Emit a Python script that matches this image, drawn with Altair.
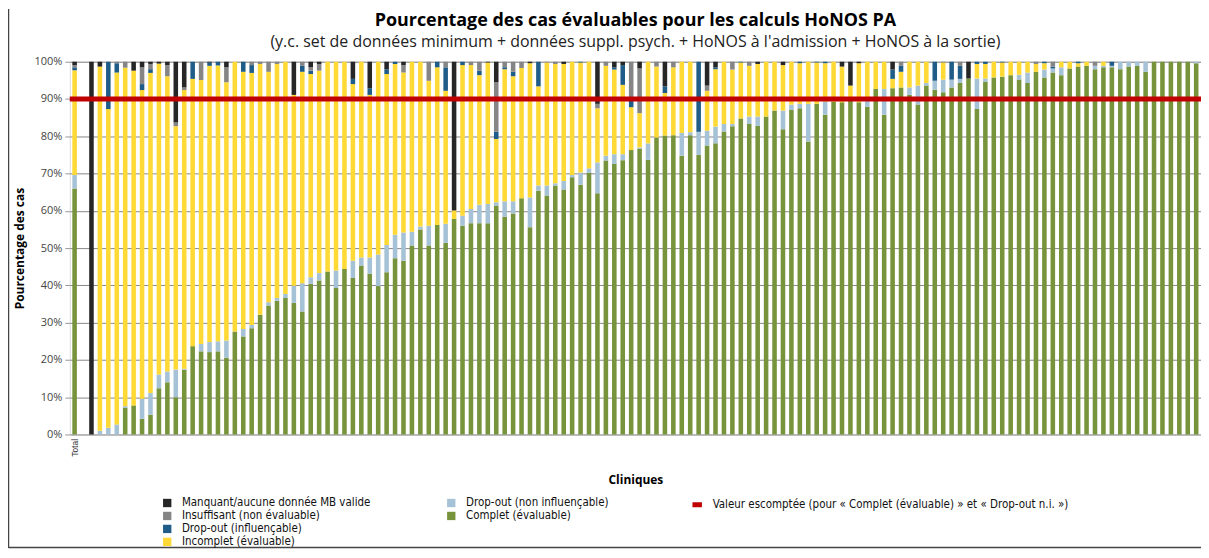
import altair as alt
import pandas as pd

# ---------------- data ----------------
CLINICS = ["Total"] + [f"Clinique {i}" for i in range(1, 133)]
GAP = " "
X_DOMAIN = ["Total", GAP] + CLINICS[1:]

complet = [66.0,
    0, 0, 0, 0, 7.1, 7.8, 4.2, 5.3, 12.4, 14.0,
    10.0, 17.4, 23.7, 22.3, 22.1, 22.3, 20.6, 27.6, 26.3, 28.5,
    32.1, 34.6, 35.9, 36.6, 35.3, 33.0, 40.4, 41.3, 43.7, 39.3,
    44.4, 42.0, 45.3, 43.1, 39.8, 43.5, 47.3, 46.6, 50.7, 55.0,
    50.7, 56.2, 51.4, 57.8, 56.0, 56.7, 56.7, 56.7, 61.4, 58.4,
    59.3, 63.4, 55.6, 65.4, 64.1, 66.8, 65.7, 69.0, 67.0, 70.2,
    64.7, 73.5, 72.6, 73.6, 76.3, 76.6, 73.7, 79.7, 80.2, 80.3,
    74.8, 80.3, 75.0, 77.5, 78.1, 81.3, 82.7, 84.8, 83.3, 82.8,
    85.3, 86.9, 81.9, 87.1, 87.5, 78.6, 88.7, 85.8, 89.3, 89.1,
    89.5, 89.1, 87.9, 92.7, 85.8, 92.9, 93.1, 91.1, 88.5, 93.6,
    92.5, 91.8, 93.1, 94.3, 95.5, 87.3, 94.6, 95.8, 96.0, 96.4,
    95.2, 94.3, 97.3, 95.8, 97.1, 96.4, 98.2, 98.7, 98.9, 98.0,
    98.5, 98.5, 98.0, 98.7, 98.9, 97.3, 100, 100, 100, 100,
    100, 99.6]

dropout_ni = [3.6,
    0, 1.0, 1.8, 2.7, 0.5, 0, 5.4, 5.8, 3.7, 2.9,
    7.4, 0.2, 0, 2.0, 2.7, 2.7, 4.6, 0, 2.0, 0.9,
    0, 0.9, 0.7, 1.1, 4.6, 7.6, 1.8, 2.0, 0, 4.7,
    0, 4.6, 2.2, 4.4, 8.5, 7.3, 6.3, 7.6, 3.7, 0.8,
    5.3, 0, 5.1, 0, 2.7, 3.8, 4.9, 5.1, 0.9, 4.2,
    3.3, 0, 8.0, 1.4, 2.7, 0.6, 2.3, 0.6, 3.3, 1.2,
    8.3, 1.3, 2.6, 1.6, 0, 0.4, 4.4, 0, 0, 0,
    6.1, 0.8, 6.2, 4.0, 4.5, 2.0, 0.6, 0, 2.0, 2.5,
    0, 0, 5.0, 1.4, 1.2, 10.1, 0, 3.5, 0, 0,
    0, 0, 1.6, 0, 6.9, 0, 0, 2.0, 5.1, 0.7,
    2.4, 3.4, 2.1, 1.1, 0, 8.2, 0.9, 0, 0, 0,
    1.3, 2.8, 0, 2.1, 1.1, 2.1, 0, 0, 0, 0.9,
    0.4, 0.4, 2.0, 1.3, 1.1, 2.7, 0, 0, 0, 0,
    0, 0.4]

incomplet = [28.1,
    0, 97.7, 85.5, 94.4, 90.8, 89.8, 82.8, 85.9, 83.4, 79.2,
    65.3, 74.8, 71.7, 70.8, 74.1, 74.0, 69.3, 72.4, 69.0, 67.6,
    67.3, 61.8, 62.8, 62.3, 51.2, 56.7, 54.5, 54.3, 56.3, 56.0,
    55.6, 47.4, 52.5, 43.6, 51.7, 45.9, 45.8, 42.9, 45.6, 44.2,
    38.9, 42.3, 35.7, 2.3, 40.4, 38.6, 34.8, 38.0, 17.0, 35.4,
    33.5, 34.9, 36.0, 26.6, 33.0, 32.0, 31.4, 30.4, 29.5, 28.6,
    14.5, 24.1, 22.7, 18.6, 11.5, 9.2, 21.9, 19.0, 11.4, 18.2,
    19.1, 18.9, 0, 10.7, 15.4, 16.7, 14.6, 15.0, 13.6, 14.1,
    14.7, 13.1, 12.2, 11.5, 10.9, 11.3, 11.1, 10.3, 10.7, 9.6,
    4.1, 10.5, 10.5, 7.3, 7.3, 2.5, 4.2, 6.9, 6.4, 5.7,
    0, 4.6, 0, 0, 0, 3.9, 3.9, 4.2, 3.8, 3.6,
    3.5, 2.9, 2.1, 1.7, 0, 1.5, 1.8, 0.9, 1.1, 0,
    1.1, 0, 0, 0, 0, 0, 0, 0, 0, 0,
    0, 0]

dropout_infl = [0.8,
    0, 0, 12.7, 2.5, 0, 0, 1.6, 1.0, 0, 0,
    0, 0, 4.6, 0, 0.9, 1.0, 0, 0, 2.7, 2.1,
    0, 0, 0, 0, 0, 1.6, 0.9, 0, 0, 0,
    0, 1.4, 0, 1.8, 0, 1.3, 0.6, 0, 0, 0,
    0, 1.5, 6.3, 0, 0.9, 0, 1.2, 0, 1.9, 0.5,
    1.2, 0, 0, 6.6, 0, 0, 0, 0, 0.2, 0,
    0, 0, 0.6, 5.3, 1.7, 0, 0, 0, 1.8, 0,
    0, 0, 18.8, 0, 0.5, 0, 0, 0.2, 0, 0,
    0, 0, 0, 0, 0.4, 0, 0.2, 0.4, 0, 0,
    0, 0, 0, 0, 0, 2.5, 1.6, 0, 0, 0,
    5.1, 0, 4.8, 3.5, 0, 0.6, 0.6, 0, 0.2, 0,
    0, 0, 0, 0.4, 0.5, 0, 0, 0.4, 0, 0,
    0, 1.1, 0, 0, 0, 0, 0, 0, 0, 0,
    0, 0]

insuffisant = [0.6,
    0, 0, 0, 0.4, 1.6, 0, 4.5, 1.4, 0, 3.0,
    1.0, 0.7, 0, 4.9, 0, 0, 4.0, 0, 0, 0.9,
    0.6, 2.7, 0.6, 0, 0, 1.1, 0.9, 1.8, 0, 0,
    0, 0, 0, 0, 0, 0, 0, 2.0, 0, 0,
    5.1, 0, 1.5, 0, 0, 0.9, 2.4, 0, 13.3, 1.5,
    2.7, 1.7, 0, 0, 0.2, 0.6, 0, 0, 0, 0,
    1.2, 1.1, 0, 0, 10.5, 12.0, 0, 1.3, 0, 1.5,
    0, 0, 0, 1.4, 0, 0, 2.1, 0, 1.1, 0,
    0, 0, 0, 0, 0, 0, 0, 0, 0, 0,
    0, 0, 0, 0, 0, 0, 1.1, 0, 0, 0,
    0, 0.2, 0, 1.1, 0, 0, 0, 0, 0, 0,
    0, 0, 0.6, 0, 1.3, 0, 0, 0, 0, 1.1,
    0, 0, 0, 0, 0, 0, 0, 0, 0, 0,
    0, 0]

manquant = [0.9,
    100, 1.3, 0, 0, 0, 2.4, 1.5, 0.6, 0.5, 0.9,
    16.3, 6.9, 0, 0, 0.2, 0, 1.5, 0, 0, 0,
    0, 0, 0, 0, 8.9, 0, 1.5, 0.6, 0, 0,
    0, 4.6, 0, 7.1, 0, 2.0, 0, 0.9, 0, 0,
    0, 0, 0, 39.9, 0, 0, 0, 0.2, 5.5, 0,
    0, 0, 0.4, 0, 0, 0, 0.6, 0, 0, 0,
    11.3, 0, 1.5, 0.9, 0, 1.8, 0, 0, 6.6, 0,
    0, 0, 0, 6.4, 1.5, 0, 0, 0, 0, 0.6,
    0, 0, 0.9, 0, 0, 0, 0, 0, 0, 1.3,
    6.4, 0.4, 0, 0, 0, 2.1, 0, 0, 0, 0,
    0, 0, 0, 0, 4.5, 0, 0, 0, 0, 0,
    0, 0, 0, 0, 0, 0, 0, 0, 0, 0,
    0, 0, 0, 0, 0, 0, 0, 0, 0, 0,
    0, 0]

TARGET = 90
TARGET_LABEL = "Valeur escomptée (pour « Complet (évaluable) » et « Drop-out n.i. »)"

# stacking order, bottom -> top
SERIES = [
    ("Complet (évaluable)", complet),
    ("Drop-out (non influençable)", dropout_ni),
    ("Incomplet (évaluable)", incomplet),
    ("Drop-out (influençable)", dropout_infl),
    ("Insuffisant (non évaluable)", insuffisant),
    ("Manquant/aucune donnée MB valide", manquant),
]

GROUP1 = ["Manquant/aucune donnée MB valide", "Insuffisant (non évaluable)",
          "Drop-out (influençable)", "Incomplet (évaluable)"]
COLORS1 = ["#262626", "#858585", "#1f5d88", "#ffd935"]
GROUP2 = ["Drop-out (non influençable)", "Complet (évaluable)"]
COLORS2 = ["#a6c2d6", "#77933c"]

rows = []
for i, clinic in enumerate(CLINICS):
    base = 0.0
    for name, arr in SERIES:
        v = arr[i]
        if v > 0:
            rows.append({"clinique": clinic, "categorie": name, "valeur": v,
                         "debut": base, "fin": base + v})
            base += v
df = pd.DataFrame(rows)
df_target = pd.DataFrame({"valeur": [TARGET], "label": [TARGET_LABEL]})

# ---------------- chart ----------------
FONT = "Open Sans"
LEG_FONT = "'Liberation Sans Narrow', 'DejaVu Sans Condensed', 'Roboto Condensed', sans-serif"
LEG_SIZE = 11.5

x_enc = alt.X(
    "clinique:N",
    sort=X_DOMAIN,
    scale=alt.Scale(domain=X_DOMAIN, paddingInner=0.46, paddingOuter=0.3),
    axis=alt.Axis(
        title="Cliniques",
        labelExpr="datum.value == 'Total' ? 'Total' : ''",
        labelAngle=-90,
        labelFontSize=8.5,
        labelColor="#333",
        labelPadding=4,
        ticks=False,
        domain=False,
        titleFont=FONT,
        titleFontSize=12,
        titleFontWeight="bold",
        titleColor="#000",
        titlePadding=18,
    ),
)

y_axis = alt.Axis(
    values=list(range(0, 101, 10)),
    labelExpr="datum.value + '%'",
    title="Pourcentage des cas",
    titleFont=FONT,
    titleFontSize=12,
    titleFontWeight="bold",
    titleColor="#000",
    titlePadding=7,
    labelFont=FONT,
    labelFontSize=11,
    labelColor="#444",
    labelPadding=3,
    tickSize=5,
    tickColor="#999",
    domain=False,
    grid=True,
    gridColor="#888888",
    gridWidth=1,
)

def legend(x, y):
    return alt.Legend(
        title=None, orient="none", legendX=x, legendY=y, direction="vertical",
        labelFont=LEG_FONT, labelFontSize=LEG_SIZE, labelColor="#111",
        labelLimit=0,
        symbolType="square", symbolSize=70, symbolStrokeWidth=0,
        labelOffset=9, rowPadding=0, padding=0,
    )

bars1 = alt.Chart(df).transform_filter(
    alt.FieldOneOfPredicate(field="categorie", oneOf=GROUP1)
).mark_bar().encode(
    x=x_enc,
    y=alt.Y("debut:Q", scale=alt.Scale(domain=[0, 100]), axis=y_axis),
    y2="fin:Q",
    color=alt.Color("categorie:N",
                    scale=alt.Scale(domain=GROUP1, range=COLORS1),
                    legend=legend(92, 437)),
)

bars2 = alt.Chart(df).transform_filter(
    alt.FieldOneOfPredicate(field="categorie", oneOf=GROUP2)
).mark_bar().encode(
    x=x_enc,
    y=alt.Y("debut:Q", scale=alt.Scale(domain=[0, 100]), axis=y_axis),
    y2="fin:Q",
    color=alt.Color("categorie:N",
                    scale=alt.Scale(domain=GROUP2, range=COLORS2),
                    legend=legend(377, 437)),
)

target = alt.Chart(df_target).mark_rule(strokeWidth=5).encode(
    y=alt.Y("valeur:Q", scale=alt.Scale(domain=[0, 100]), axis=y_axis),
    color=alt.Color("label:N",
                    scale=alt.Scale(domain=[TARGET_LABEL], range=["#c00000"]),
                    legend=alt.Legend(
                        title=None, orient="none", legendX=622, legendY=437,
                        labelFont=LEG_FONT, labelFontSize=LEG_SIZE, labelColor="#111",
                        labelLimit=0,
                        symbolType="stroke", symbolSize=90, symbolStrokeWidth=5,
                        labelOffset=8, padding=0,
                    )),
)

frame_df = pd.DataFrame({"k": [0]})
frame_left = alt.Chart(frame_df).mark_rule(color="#444", strokeWidth=1.5).encode(
    x=alt.value(-61.5), y=alt.value(-53), y2=alt.value(488)
)
frame_bottom = alt.Chart(frame_df).mark_rule(color="#444", strokeWidth=1.5).encode(
    x=alt.value(-61.5), x2=alt.value(1140), y=alt.value(487.5)
)

chart = alt.layer(bars2, bars1, target, frame_left, frame_bottom).resolve_scale(
    color="independent"
).properties(
    width=1135,
    height=374,
    padding={"left": 62, "top": 53, "right": 0, "bottom": 115},
    autosize=alt.AutoSizeParams(type="none"),
    title=alt.TitleParams(
        text="Pourcentage des cas évaluables pour les calculs HoNOS PA",
        subtitle="(y.c. set de données minimum + données suppl. psych. + HoNOS à l'admission + HoNOS à la sortie)",
        font=FONT, fontSize=18, fontWeight="bold", color="#000",
        subtitleFont=FONT, subtitleFontSize=16, subtitleColor="#222",
        anchor="middle", offset=0, dy=42, subtitlePadding=4,
    ),
).configure_view(
    stroke="#cfcfcf", strokeWidth=1.5
).configure(background="white")

chart.save("out.html", embed_options={"renderer": "svg", "actions": False})
